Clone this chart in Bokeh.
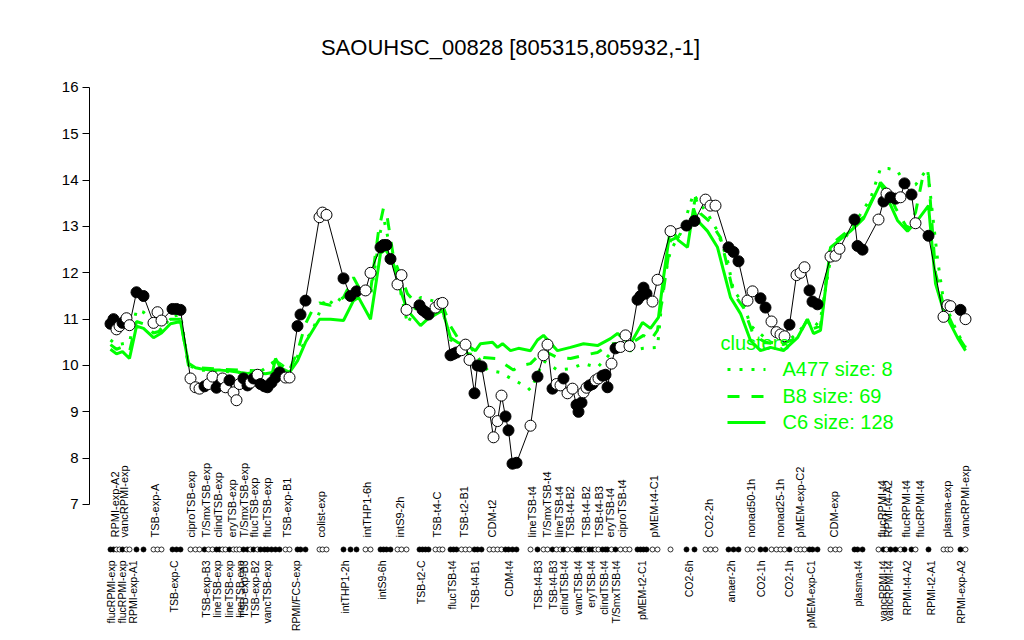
import math
from bokeh.plotting import figure
from bokeh.models import Range1d, LinearAxis, FixedTicker
from bokeh.embed import file_html
from bokeh.resources import INLINE
from bokeh.core.properties import value

TITLE = "SAOUHSC_00828 [805315,805932,-1]"

# ---- sample series (position along the ordering, expression value, filled marker) ----
sample_pos = [10, 13, 16, 19, 22, 26, 29, 36, 43, 53, 57, 61, 72, 76, 80,
              90, 95, 99, 104, 108, 112, 116, 119, 122, 125, 129, 133, 136, 139, 143,
              147, 150, 153, 157, 160, 164, 167, 171, 175, 179, 185, 189,
              197, 200, 205, 219, 222, 226, 243, 250, 256, 265, 270,
              280, 283, 286, 290, 297, 301, 306, 319, 322, 325, 328, 335, 339, 342,
              350, 353, 356, 361, 365, 369, 374, 377, 381, 389, 393, 397, 401,
              405, 408, 412, 416, 430, 437, 443, 447, 452, 456, 460, 463, 467, 472,
              476, 478, 481, 483, 486, 489, 492, 495, 498, 502, 505, 507, 511, 515,
              520, 525, 529, 537, 540, 543, 546, 552, 557, 570, 586, 594, 605, 610, 615,
              628, 633, 638, 647, 652, 660, 665, 671, 676, 680, 684, 689, 696, 700, 704,
              709, 712, 717, 730, 735, 739, 754, 757, 762, 778, 783, 786, 790, 795, 800,
              804, 811, 815, 828, 843, 847, 850, 860, 865]
sample_val = [10.90, 11.00, 10.78, 10.85, 10.92, 11.02, 10.87, 11.58, 11.50, 10.92, 11.15, 10.97, 11.22, 11.22, 11.20,
              9.72, 9.53, 9.50, 9.55, 9.60, 9.76, 9.52, 9.58, 9.72, 9.53, 9.68, 9.42, 9.25, 9.60, 9.72,
              9.57, 9.63, 9.72, 9.80, 9.60, 9.55, 9.53, 9.63, 9.74, 9.85, 9.74, 9.74,
              10.85, 11.10, 11.40, 13.20, 13.30, 13.25, 11.88, 11.50, 11.60, 11.62, 12.00,
              12.55, 12.60, 12.60, 12.30, 11.75, 11.95, 11.20, 11.30, 11.20, 11.15, 11.10, 11.25, 11.33, 11.35,
              10.22, 10.25, 10.28, 10.33, 10.45, 10.12, 9.40, 10.00, 9.98, 9.00, 8.45, 8.80, 9.35,
              8.90, 8.60, 7.88, 7.90, 8.70, 9.76, 10.22, 10.45, 9.50, 9.60, 9.57, 9.72, 9.40, 9.50,
              9.15, 9.00, 9.20, 9.42, 9.52, 9.57, 9.60, 9.68, 9.72, 9.78, 9.80, 9.53, 10.04, 10.37,
              10.40, 10.65, 10.42, 11.42, 11.50, 11.68, 11.55, 11.38, 11.85, 12.90, 13.02, 13.12, 13.58, 13.45, 13.45,
              12.55, 12.45, 12.25, 11.40, 11.60, 11.45, 11.25, 10.95, 10.72, 10.67, 10.63, 10.88, 11.95, 12.00, 12.12,
              11.62, 11.38, 11.32, 12.35, 12.37, 12.52, 13.15, 12.58, 12.50, 13.15, 13.54, 13.71, 13.63, 13.60, 13.63,
              13.93, 13.69, 13.07, 12.80, 11.05, 11.30, 11.28, 11.20, 11.00]
sample_filled = [1, 1, 0, 0, 1, 0, 0, 1, 1, 0, 0, 0, 1, 1, 1,
                 0, 0, 0, 1, 0, 0, 1, 1, 0, 0, 1, 0, 0, 0, 1,
                 1, 0, 1, 0, 1, 1, 1, 1, 1, 1, 0, 0,
                 1, 1, 1, 0, 0, 0, 1, 1, 1, 0, 0,
                 1, 1, 1, 1, 0, 0, 0, 1, 1, 1, 1, 0, 0, 0,
                 1, 1, 1, 0, 0, 0, 1, 1, 1, 0, 0, 0, 0,
                 1, 1, 1, 1, 0, 1, 0, 0, 1, 0, 0, 1, 0, 0,
                 1, 1, 1, 0, 0, 1, 1, 0, 0, 1, 1, 1, 0, 1,
                 0, 0, 0, 1, 1, 1, 1, 0, 0, 0, 1, 1, 0, 0, 0,
                 1, 1, 1, 0, 0, 1, 1, 0, 0, 0, 0, 1, 0, 0, 0,
                 1, 1, 1, 0, 0, 0, 1, 1, 1, 0, 1, 0, 1, 1, 0,
                 1, 1, 0, 1, 0, 0, 0, 1, 0]

# ---- cluster mean profiles ----
c6_pos = [10, 16, 22, 29, 36, 43, 53, 61, 70, 80, 88, 95, 100, 110, 120, 130, 140, 147, 155, 165,
          172, 175, 180, 189, 197, 205, 212, 219, 230, 243, 253, 258, 270, 280, 285, 292, 300, 307,
          320, 327, 342, 350, 357, 370, 375, 380, 392, 397, 402, 410, 418, 430, 437, 443, 457, 470,
          483, 497, 510, 517, 523, 530, 542, 550, 558, 563, 570, 578, 587, 593, 597, 607, 617, 623,
          630, 640, 650, 660, 670, 683, 697, 707, 713, 720, 730, 750, 763, 780, 788, 797, 807, 817,
          828, 835, 843, 857, 865]
c6_val = [10.35, 10.25, 10.30, 10.15, 10.85, 10.80, 10.60, 10.70, 10.90, 10.95, 10.05, 9.95, 9.93, 9.90, 9.90, 9.88, 9.85, 9.83, 9.85, 9.82,
          9.85, 10.15, 9.95, 9.85, 10.10, 10.50, 10.75, 11.00, 11.00, 10.97, 11.40, 11.47, 11.00, 12.42, 12.50, 12.27, 11.62, 11.19,
          10.86, 11.00, 11.19, 10.60, 10.50, 10.39, 10.32, 10.47, 10.50, 10.39, 10.47, 10.32, 10.37, 10.32, 10.55, 10.65, 10.32, 10.39,
          10.47, 10.43, 10.58, 10.69, 10.58, 10.47, 10.93, 10.80, 11.04, 11.90, 12.98, 12.70, 12.55, 13.39, 13.13, 12.90, 12.55, 12.05,
          11.47, 11.12, 10.54, 10.32, 10.39, 10.32, 10.60, 11.00, 10.69, 10.76, 12.55, 12.90, 13.17, 13.93, 13.56, 13.13, 12.90, 13.13,
          13.45, 11.77, 11.19, 10.60, 10.32]

b8_pos = [10, 16, 22, 29, 36, 43, 53, 61, 70, 80, 88, 100, 120, 140, 160, 175, 189, 197, 205, 212,
          219, 230, 243, 253, 258, 270, 278, 283, 286, 293, 307, 320, 330, 342, 350, 360, 367, 383,
          395, 402, 413, 420, 430, 443, 457, 470, 483, 497, 510, 520, 530, 543, 550, 557, 563, 570,
          580, 590, 595, 600, 610, 620, 627, 633, 643, 653, 665, 680, 697, 707, 713, 720, 730, 750,
          763, 780, 788, 795, 807, 815, 823, 828, 835, 843, 857, 865]
b8_val = [10.45, 10.35, 10.40, 10.30, 10.95, 10.90, 10.70, 10.75, 11.00, 11.00, 10.00, 9.95, 9.92, 9.90, 9.88, 10.10, 9.90, 10.30, 10.90, 11.20,
          11.35, 11.30, 11.47, 11.90, 11.70, 11.60, 12.90, 13.40, 13.30, 12.33, 11.55, 11.23, 11.20, 11.30, 10.85, 10.50, 10.26, 10.17,
          10.15, 10.06, 9.90, 10.00, 10.04, 10.32, 10.17, 10.15, 10.22, 10.28, 10.47, 10.47, 10.47, 10.65, 10.54, 10.76, 11.62, 12.70,
          12.80, 13.07, 13.63, 13.28, 13.09, 12.76, 12.12, 11.55, 11.25, 10.65, 10.50, 10.45, 10.60, 11.00, 10.80, 10.85, 12.60, 12.95,
          13.20, 13.95, 13.75, 13.40, 12.95, 13.30, 14.15, 14.10, 12.00, 11.30, 10.65, 10.38]

a477_pos = [10, 16, 22, 29, 36, 43, 53, 61, 70, 80, 88, 100, 120, 140, 160, 175, 189, 197, 205, 212,
            219, 225, 235, 243, 253, 260, 270, 280, 284, 292, 300, 307, 320, 340, 350, 360, 370, 380,
            387, 400, 412, 427, 430, 443, 457, 470, 483, 497, 510, 520, 530, 543, 557, 563, 570, 580,
            587, 593, 597, 607, 617, 627, 633, 643, 650, 670, 683, 697, 707, 713, 720, 730, 740, 755,
            770, 780, 788, 797, 805, 815, 827, 837, 843, 857, 865]
a477_val = [10.55, 10.45, 10.47, 10.50, 11.20, 11.15, 10.95, 10.75, 11.05, 11.10, 10.00, 9.90, 9.88, 9.85, 9.87, 10.10, 9.90, 10.20, 10.55, 10.75,
            11.15, 11.45, 11.30, 11.55, 11.60, 11.75, 11.50, 12.90, 13.10, 12.30, 11.60, 10.90, 11.47, 11.35, 10.55, 10.50, 10.40, 10.10,
            9.90, 9.85, 9.70, 9.53, 9.46, 10.10, 9.90, 9.93, 10.04, 9.96, 10.26, 10.32, 10.32, 10.37, 10.39, 11.77, 12.48, 12.85,
            13.30, 13.71, 13.56, 13.28, 12.90, 12.27, 11.62, 11.34, 10.86, 10.50, 10.45, 10.70, 10.95, 10.80, 11.00, 12.30, 12.60, 13.10,
            13.60, 14.25, 14.25, 14.20, 13.90, 13.90, 14.25, 12.30, 11.40, 10.70, 10.40]

cluster_names = ["A477 size: 8", "B8 size: 69", "C6 size: 128"]
legend_title = "clusters"

# ---- sample tick labels (two staggered rows) ----
top_labels = ["RPMI-exp-A2", "vancRPMI-exp", "TSB-exp-A", "ciproTSB-exp", "T/SmxTSB-exp", "clindTSB-exp",
              "eryTSB-exp", "T/SmxTSB-exp", "flucTSB-exp", "flucTSB-exp", "TSB-exp-B1", "colist-exp",
              "intTHP1-6h", "intS9-2h", "TSB-t4-C", "TSB-t2-B1", "CDM-t2", "lineTSB-t4", "T/SmxTSB-t4",
              "lineTSB-t4", "TSB-t4-B2", "TSB-t4-B2", "TSB-t4-B3", "eryTSB-t4", "ciproTSB-t4", "pMEM-t4-C1",
              "CO2-2h", "nonad50-1h", "nonad25-1h", "pMEM-exp-C2", "CDM-exp", "flucRPMI-t4", "RPMI-t4-A2",
              "flucRPMI-t4", "flucRPMI-t4", "plasma-exp", "vancRPMI-exp"]
top_label_pos = [14, 23, 54, 90, 105, 117, 131, 143, 153, 166, 186, 220,
                 266, 299, 336, 363, 391, 431, 446, 458, 469, 485, 498, 509, 521, 553,
                 608, 650, 679, 699, 733, 781, 787, 805, 819, 846, 864]
bottom_labels = ["flucRPMI-exp", "flucRPMI-exp", "RPMI-exp-A1", "TSB-exp-C", "TSB-exp-B3", "lineTSB-exp",
                 "lineTSB-exp", "lineTSB-exp", "TSB-exp-B3", "TSB-exp-B2", "vancTSB-exp", "RPMI/FCS-exp",
                 "intTHP1-2h", "intS9-6h", "TSB-t2-C", "flucTSB-t4", "TSB-t4-B1", "CDM-t4", "TSB-t4-B3",
                 "TSB-t4-B3", "clindTSB-t4", "vancTSB-t4", "eryTSB-t4", "clindTSB-t4", "T/SmxTSB-t4",
                 "pMEM-t2-C1", "CO2-6h", "anaer-2h", "CO2-1h", "CO2-1h", "pMEM-exp-C1", "plasma-t4",
                 "vancRPMI-t4", "vancRPMI-t4", "RPMI-t4-A2", "RPMI-t2-A1", "RPMI-exp-A2"]
bottom_label_pos = [10, 21, 32, 73, 105, 116, 128, 139, 143, 154, 166, 195,
                    244, 281, 320, 351, 374, 408, 437, 452, 463, 477, 490, 503, 515,
                    541, 588, 630, 660, 688, 710, 757, 782, 788, 806, 830, 860]

# ---- layout constants ----
FONT = "Liberation Sans"
GREEN = "#00ff00"
RUG_Y = 6.029
TOP_LAB_Y = 6.288
BOT_LAB_Y = 5.791
TITLE_Y = 16.863
TITLE_X = 410

p = figure(width=1008, height=636, x_range=Range1d(-11, 908), y_range=Range1d(4.151, 17.683),
           output_backend="svg", toolbar_location=None, x_axis_type=None, y_axis_type=None,
           min_border_left=89, min_border_right=0, min_border_top=9, min_border_bottom=0)
p.outline_line_color = None
p.background_fill_color = "white"
p.border_fill_color = "white"

yax = LinearAxis(ticker=FixedTicker(ticks=list(range(7, 17))), bounds=(7, 16))
yax.major_label_text_font = FONT
yax.major_label_text_font_size = "15px"
yax.major_label_text_color = "black"
yax.major_tick_out = 7
yax.major_tick_in = 0
yax.minor_tick_out = 0
yax.minor_tick_in = 0
yax.major_label_standoff = 4
yax.axis_line_color = "black"
yax.major_tick_line_color = "black"
p.add_layout(yax, "left")

# cluster lines
p.line(c6_pos, c6_val, line_color=GREEN, line_width=3)
p.line(b8_pos, b8_val, line_color=GREEN, line_width=3, line_dash="12 12")
p.line(a477_pos, a477_val, line_color=GREEN, line_width=3, line_dash="3 9")

# sample profile
fills = ["black" if f else "white" for f in sample_filled]
p.line(sample_pos, sample_val, line_color="black", line_width=1)
p.scatter(sample_pos, sample_val, size=11, fill_color=fills, line_color="black", line_width=1)

# rug
p.scatter(sample_pos, [RUG_Y] * len(sample_pos), size=5, fill_color=fills,
          line_color="black", line_width=0.8)

# tick labels
p.text(top_label_pos, [TOP_LAB_Y] * len(top_labels), text=top_labels, angle=math.pi / 2,
       text_align="left", text_baseline="middle", text_font=value(FONT),
       text_font_size="11px", text_color="black")
p.text(bottom_label_pos, [BOT_LAB_Y] * len(bottom_labels), text=bottom_labels, angle=math.pi / 2,
       text_align="right", text_baseline="middle", text_font=value(FONT),
       text_font_size="10.5px", text_color="black")

# title
p.text([TITLE_X], [TITLE_Y], text=[TITLE], text_align="center", text_baseline="middle",
       text_font=value(FONT), text_font_size="22px", text_color="black")

# legend
LEG_X0, LEG_X1, LEG_TX = 627, 665, 682
leg_title_y = 10.496
leg_rows = [9.914, 9.331, 8.770]
dashes = ["3 9", "12 12", "solid"]
p.text([620], [leg_title_y], text=[legend_title], text_align="left", text_baseline="middle",
       text_font=value(FONT), text_font_size="20px", text_color=GREEN)
for name, yy, dsh in zip(cluster_names, leg_rows, dashes):
    p.line([LEG_X0, LEG_X1], [yy, yy], line_color=GREEN, line_width=3, line_dash=dsh)
    p.text([LEG_TX], [yy], text=[name], text_align="left", text_baseline="middle",
           text_font=value(FONT), text_font_size="20px", text_color=GREEN)

open("out.html", "w").write(file_html(p, INLINE))
